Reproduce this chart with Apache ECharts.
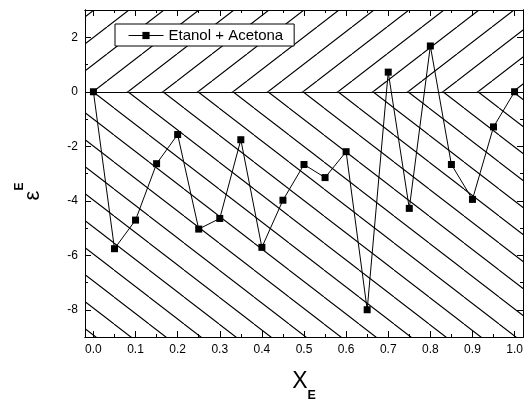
<!DOCTYPE html>
<html>
<head>
<meta charset="utf-8">
<script src="https://cdn.jsdelivr.net/npm/echarts@6/dist/echarts.min.js"></script>
<style>html,body{margin:0;padding:0;background:#fff}#c{width:524px;height:400px}</style>
</head>
<body>
<div id="c"></div>
<script>
// ---- data ----
var seriesName = 'Etanol + Acetona';
var xValues = [0.00, 0.05, 0.10, 0.15, 0.20, 0.25, 0.30, 0.35, 0.40, 0.45, 0.50,
               0.55, 0.60, 0.65, 0.70, 0.75, 0.80, 0.85, 0.90, 0.95, 1.00];
var yValues = [0.00, -5.76, -4.71, -2.64, -1.57, -5.04, -4.65, -1.76, -5.71, -3.98, -2.67,
               -3.15, -2.20, -8.00, 0.72, -4.28, 1.68, -2.67, -3.95, -1.29, 0.00];
var xTicks = [0.0, 0.1, 0.2, 0.3, 0.4, 0.5, 0.6, 0.7, 0.8, 0.9, 1.0];
var xMinorTicks = [0.05, 0.15, 0.25, 0.35, 0.45, 0.55, 0.65, 0.75, 0.85, 0.95];
var yTicks = [-8, -6, -4, -2, 0, 2];
var yMinorTicks = [-9, -7, -5, -3, -1, 1, 3];
var xMin = -0.02, xMax = 1.02, yMin = -9, yMax = 3, yRef = 0;

// ---- hatch patterns ----
function hatch(dir, phase) {
  var W = 35, H = 27;
  var c = document.createElement('canvas');
  c.width = W; c.height = H;
  var g = c.getContext('2d');
  g.strokeStyle = '#000';
  g.lineWidth = 1.1;
  g.beginPath();
  for (var k = -2; k <= 2; k++) {
    var x0 = phase + k * W;
    g.moveTo(x0, 0);
    g.lineTo(x0 + dir * W, H);
  }
  g.stroke();
  return { image: c, repeat: 'repeat' };
}
var hatchDown = hatch(1, 9);   // "\" below the reference line
var hatchUp = hatch(-1, 2);    // "/" above the reference line

var FONT = 'Liberation Sans';
function baseAxis() {
  return {
    type: 'value',
    axisLine: { show: true, onZero: false, lineStyle: { color: '#000', width: 1 } },
    splitLine: { show: false }
  };
}
function xAx(pos, ticks, len, labels) {
  return Object.assign(baseAxis(), {
    position: pos, min: xMin, max: xMax,
    axisTick: { show: true, inside: true, length: len, customValues: ticks, lineStyle: { color: '#000' } },
    axisLabel: labels ? { show: true, customValues: ticks, margin: 7, color: '#000', fontSize: 12, fontFamily: FONT,
      formatter: function (v) { return v.toFixed(1); } } : { show: false }
  });
}
function yAx(pos, ticks, len, labels) {
  return Object.assign(baseAxis(), {
    position: pos, min: yMin, max: yMax,
    axisTick: { show: true, inside: true, length: len, customValues: ticks, lineStyle: { color: '#000' } },
    axisLabel: labels ? { show: true, customValues: ticks, margin: 7, color: '#000', fontSize: 12, fontFamily: FONT,
      formatter: function (v) { return String(v); } } : { show: false }
  });
}

var xMain = xAx('bottom', xTicks, 6, true);
xMain.name = '{x|X}{s|E}';
xMain.nameLocation = 'middle';
xMain.nameGap = 24;
xMain.nameTextStyle = {
  rich: {
    x: { fontSize: 23, fontFamily: FONT, color: '#000' },
    s: { fontSize: 12.5, fontWeight: 'bold', fontFamily: FONT, color: '#000', padding: [28, 0, 0, 0] }
  }
};
var yMain = yAx('left', yTicks, 6, true);
yMain.name = '{e|ε}{s|E}';
yMain.nameLocation = 'middle';
yMain.nameRotate = 90;
yMain.nameGap = 33;
yMain.nameTextStyle = {
  padding: [0, 36, 0, 0],
  rich: {
    e: { fontSize: 22, fontFamily: FONT, color: '#000' },
    s: { fontSize: 12, fontWeight: 'bold', fontFamily: FONT, color: '#000', padding: [0, 0, 26, 0] }
  }
};

var chart = echarts.init(document.getElementById('c'), null, { renderer: 'canvas' });
chart.setOption({
  animation: false,
  backgroundColor: '#fff',
  grid: { left: 85, right: 1, top: 10, bottom: 63, containLabel: false, outerBoundsMode: 'none' },
  legend: {
    data: [seriesName],
    left: 115, top: 24,
    orient: 'horizontal',
    backgroundColor: '#fff',
    borderColor: '#000', borderWidth: 1,
    padding: [4, 11, 3, 13],
    itemWidth: 35, itemHeight: 9,
    lineStyle: { width: 1 },
    textStyle: { fontSize: 15, fontFamily: FONT, color: '#000' }
  },
  xAxis: [
    xMain,
    xAx('bottom', xMinorTicks, 3, false),
    xAx('top', xTicks, 6, false),
    xAx('top', xMinorTicks, 3, false)
  ],
  yAxis: [
    yMain,
    yAx('left', yMinorTicks, 3, false),
    yAx('right', yTicks, 6, false),
    yAx('right', yMinorTicks, 3, false)
  ],
  series: [{
    name: seriesName,
    type: 'line',
    xAxisIndex: 0, yAxisIndex: 0,
    data: xValues.map(function (x, i) { return [x, yValues[i]]; }),
    symbol: 'rect',
    symbolSize: 7,
    lineStyle: { color: '#000', width: 1 },
    itemStyle: { color: '#000' },
    z: 5,
    markArea: {
      silent: true,
      data: [
        [{ xAxis: xMin, yAxis: yRef, itemStyle: { color: hatchUp } }, { xAxis: xMax, yAxis: yMax }],
        [{ xAxis: xMin, yAxis: yMin, itemStyle: { color: hatchDown } }, { xAxis: xMax, yAxis: yRef }]
      ]
    },
    markLine: {
      silent: true,
      symbol: 'none',
      label: { show: false },
      lineStyle: { color: '#000', width: 1, type: 'solid' },
      data: [{ yAxis: yRef }]
    }
  }]
});
</script>
</body>
</html>
